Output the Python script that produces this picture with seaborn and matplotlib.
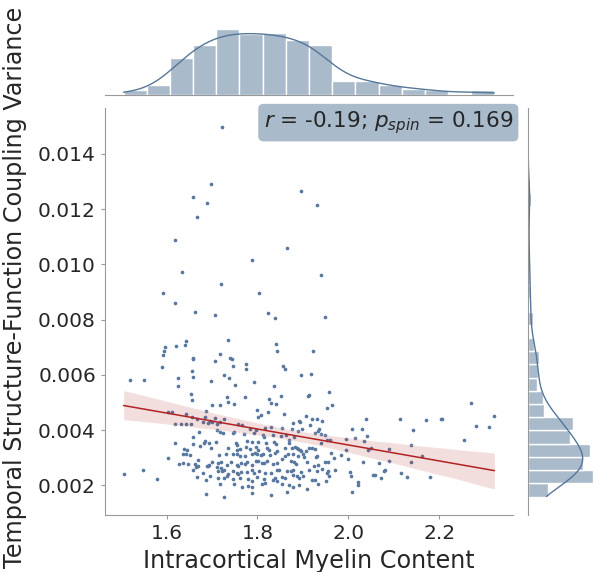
import numpy as np
import pandas as pd
import matplotlib
matplotlib.use("Agg")
import matplotlib.pyplot as plt
import seaborn as sns

myelin = [
1.721,1.697,1.659,1.689,1.895,1.931,1.667,1.618,1.866,1.787,1.633,1.939,1.719,1.593,1.803,1.618,1.662,1.706,1.824,1.839,
1.949,1.736,1.643,1.640,1.621,1.840,1.596,1.594,1.593,1.844,1.923,1.657,1.659,1.717,1.740,1.744,1.707,1.590,1.747,1.774,
1.774,1.856,1.861,1.656,1.658,1.625,1.727,1.738,1.519,1.549,1.896,1.919,1.697,1.792,1.624,1.750,1.837,1.653,1.958,1.732,
1.772,1.851,1.911,1.913,1.656,1.736,1.749,1.826,1.830,1.840,1.718,1.700,1.686,1.798,1.964,1.953,2.271,2.322,1.604,1.611,
1.643,1.656,1.666,1.684,1.695,1.706,1.726,1.807,1.801,1.824,1.859,1.892,1.906,1.921,1.931,1.942,2.038,2.115,2.172,2.205,
2.206,2.282,2.311,1.618,1.632,1.643,1.654,1.681,1.692,1.699,1.710,1.718,1.758,1.765,1.784,1.796,1.817,1.829,1.854,1.879,
1.894,1.898,1.876,1.915,1.936,1.934,1.941,1.948,2.008,2.030,2.142,1.672,1.711,1.717,1.725,1.745,1.749,1.770,1.793,1.813,
1.815,1.835,1.851,1.862,1.880,1.890,1.927,1.954,1.959,1.996,2.015,2.035,2.042,2.256,1.618,1.659,1.658,1.685,1.683,1.693,
1.709,1.752,1.754,1.776,1.789,1.802,1.818,1.837,1.840,1.870,1.869,1.882,1.888,1.890,1.894,1.906,1.914,1.921,1.941,2.044,
2.050,2.090,2.138,1.639,1.645,1.673,1.697,1.735,1.754,1.761,1.774,1.783,1.796,1.801,1.820,1.825,1.842,1.860,1.875,1.896,
1.927,1.996,1.602,1.636,1.643,1.651,1.668,1.715,1.730,1.745,1.755,1.761,1.773,1.787,1.795,1.800,1.807,1.813,1.828,1.839,
1.855,1.860,1.867,1.879,1.890,1.900,1.903,1.928,1.932,1.961,1.969,1.983,2.000,2.163,1.628,1.637,1.646,1.662,1.670,1.690,
1.694,1.700,1.713,1.719,1.732,1.741,1.755,1.758,1.763,1.773,1.778,1.787,1.796,1.802,1.809,1.814,1.822,1.835,1.842,1.873,
1.881,1.885,1.908,1.925,1.934,1.949,1.956,2.033,2.068,2.089,2.138,1.505,1.547,1.578,1.659,1.665,1.666,1.680,1.689,1.711,
1.713,1.719,1.722,1.726,1.734,1.747,1.755,1.757,1.763,1.776,1.789,1.793,1.804,1.816,1.829,1.842,1.848,1.866,1.873,1.878,
1.895,1.914,1.932,1.942,1.953,1.956,1.970,2.003,2.054,2.059,2.080,2.078,2.116,2.129,2.181,1.686,1.695,1.714,1.727,1.733,
1.747,1.762,1.780,1.789,1.798,1.815,1.834,1.839,1.842,1.854,1.860,1.879,1.887,1.892,1.901,1.920,1.927,1.950,1.958,2.005,
2.073,1.749,1.717,1.766,1.780,1.787,1.810,1.816,1.853,1.870,1.879,1.892,1.934,2.022,2.021,1.908,1.866,1.789,2.009,1.687,
1.727,1.829,
]

coupling_var = [
0.01499,0.01291,0.01245,0.01223,0.01264,0.01216,0.01172,0.01088,0.01059,0.01017,0.00973,0.00962,0.00930,0.00896,0.00897,0.00859,0.00829,0.00817,0.00825,0.00806,
0.00811,0.00728,0.00724,0.00709,0.00704,0.00713,0.00702,0.00686,0.00671,0.00686,0.00685,0.00661,0.00658,0.00675,0.00661,0.00657,0.00651,0.00627,0.00634,0.00640,
0.00621,0.00634,0.00621,0.00613,0.00594,0.00590,0.00600,0.00589,0.00583,0.00583,0.00599,0.00604,0.00577,0.00576,0.00559,0.00565,0.00559,0.00532,0.00537,0.00520,
0.00520,0.00522,0.00525,0.00527,0.00508,0.00501,0.00496,0.00514,0.00499,0.00496,0.00490,0.00490,0.00470,0.00474,0.00491,0.00479,0.00499,0.00451,0.00467,0.00464,
0.00458,0.00448,0.00442,0.00446,0.00434,0.00445,0.00441,0.00455,0.00446,0.00465,0.00457,0.00435,0.00452,0.00441,0.00439,0.00435,0.00442,0.00440,0.00436,0.00439,
0.00442,0.00415,0.00410,0.00424,0.00422,0.00423,0.00424,0.00428,0.00425,0.00431,0.00422,0.00428,0.00424,0.00417,0.00405,0.00402,0.00407,0.00412,0.00408,0.00427,
0.00429,0.00406,0.00406,0.00417,0.00406,0.00396,0.00385,0.00384,0.00405,0.00404,0.00401,0.00393,0.00400,0.00392,0.00389,0.00390,0.00393,0.00387,0.00390,0.00382,
0.00376,0.00381,0.00379,0.00384,0.00376,0.00396,0.00388,0.00365,0.00366,0.00368,0.00372,0.00362,0.00378,0.00364,0.00355,0.00375,0.00349,0.00360,0.00354,0.00355,
0.00358,0.00352,0.00345,0.00361,0.00358,0.00358,0.00352,0.00359,0.00350,0.00364,0.00355,0.00339,0.00336,0.00331,0.00327,0.00326,0.00337,0.00335,0.00352,0.00327,
0.00336,0.00331,0.00345,0.00331,0.00330,0.00341,0.00336,0.00337,0.00327,0.00333,0.00339,0.00331,0.00339,0.00327,0.00337,0.00330,0.00325,0.00335,0.00336,0.00324,
0.00331,0.00327,0.00299,0.00312,0.00314,0.00309,0.00291,0.00309,0.00313,0.00312,0.00315,0.00307,0.00308,0.00315,0.00318,0.00312,0.00310,0.00313,0.00310,0.00318,
0.00297,0.00308,0.00314,0.00312,0.00308,0.00314,0.00304,0.00303,0.00305,0.00316,0.00301,0.00309,0.00297,0.00305,0.00279,0.00281,0.00279,0.00279,0.00269,0.00270,
0.00275,0.00285,0.00281,0.00285,0.00273,0.00285,0.00275,0.00272,0.00281,0.00279,0.00285,0.00274,0.00287,0.00288,0.00282,0.00281,0.00290,0.00279,0.00282,0.00287,
0.00285,0.00279,0.00285,0.00269,0.00275,0.00285,0.00285,0.00284,0.00281,0.00290,0.00285,0.00240,0.00255,0.00223,0.00257,0.00267,0.00230,0.00245,0.00272,0.00267,
0.00252,0.00262,0.00253,0.00257,0.00242,0.00252,0.00245,0.00240,0.00248,0.00248,0.00255,0.00245,0.00251,0.00245,0.00245,0.00255,0.00257,0.00251,0.00252,0.00255,
0.00250,0.00256,0.00252,0.00258,0.00245,0.00251,0.00255,0.00247,0.00236,0.00238,0.00257,0.00252,0.00246,0.00230,0.00230,0.00221,0.00235,0.00228,0.00227,0.00233,
0.00223,0.00227,0.00222,0.00217,0.00230,0.00224,0.00221,0.00227,0.00215,0.00229,0.00227,0.00239,0.00235,0.00227,0.00233,0.00218,0.00218,0.00217,0.00233,0.00233,
0.00227,0.00206,0.00204,0.00196,0.00199,0.00194,0.00204,0.00210,0.00206,0.00200,0.00193,0.00202,0.00206,0.00212,0.00200,0.00187,0.00176,0.00172,0.00176,0.00168,
0.00160,0.00166,
]

x_label = "Intracortical Myelin Content"
y_label = "Temporal Structure-Function Coupling Variance"
annot = r"$r$ = -0.19; $p_{spin}$ = 0.169"

n = min(len(myelin), len(coupling_var))
df = pd.DataFrame({"x": myelin[:n], "y": coupling_var[:n]})

sns.set_style("white")
plt.rcParams["axes.edgecolor"] = "0.6"
plt.rcParams["font.family"] = ["DejaVu Sans"]

base = "#557799"
g = sns.jointplot(
    data=df, x="x", y="y", kind="reg", color=base, height=5.72, ratio=6, space=0.1,
    joint_kws=dict(scatter_kws=dict(s=7, alpha=1, color="#5878a0", linewidths=0),
                   line_kws=dict(color="#b22222", lw=1.1), seed=0),
    marginal_kws=dict(line_kws=dict(lw=1)),
)
fig = g.figure
fig.set_size_inches(5.96, 5.72)
ax = g.ax_joint
ax.set_position([105/596, 57/572, 408/596, 407/572])
g.ax_marg_x.set_position([105/596, 477/572, 408/596, 69/572])
g.ax_marg_y.set_position([528/596, 57/572, 68/596, 407/572])

ax.set_xlabel(x_label, fontsize=17.2, color="0.15")
ax.set_ylabel(y_label, fontsize=17.2, color="0.15")
ax.yaxis.set_label_coords(-0.19, 0.56)
ax.tick_params(labelsize=14.5, colors="0.6", labelcolor="0.15", length=3, left=True, bottom=True)

ax.text(1.0, 0.997, annot, transform=ax.transAxes, ha="right", va="top", fontsize=15.5,
        color="0.15", zorder=10,
        bbox=dict(boxstyle="round,pad=0.25", facecolor=base, alpha=0.5, edgecolor="none"))

fig.savefig("out.png", dpi=100)
